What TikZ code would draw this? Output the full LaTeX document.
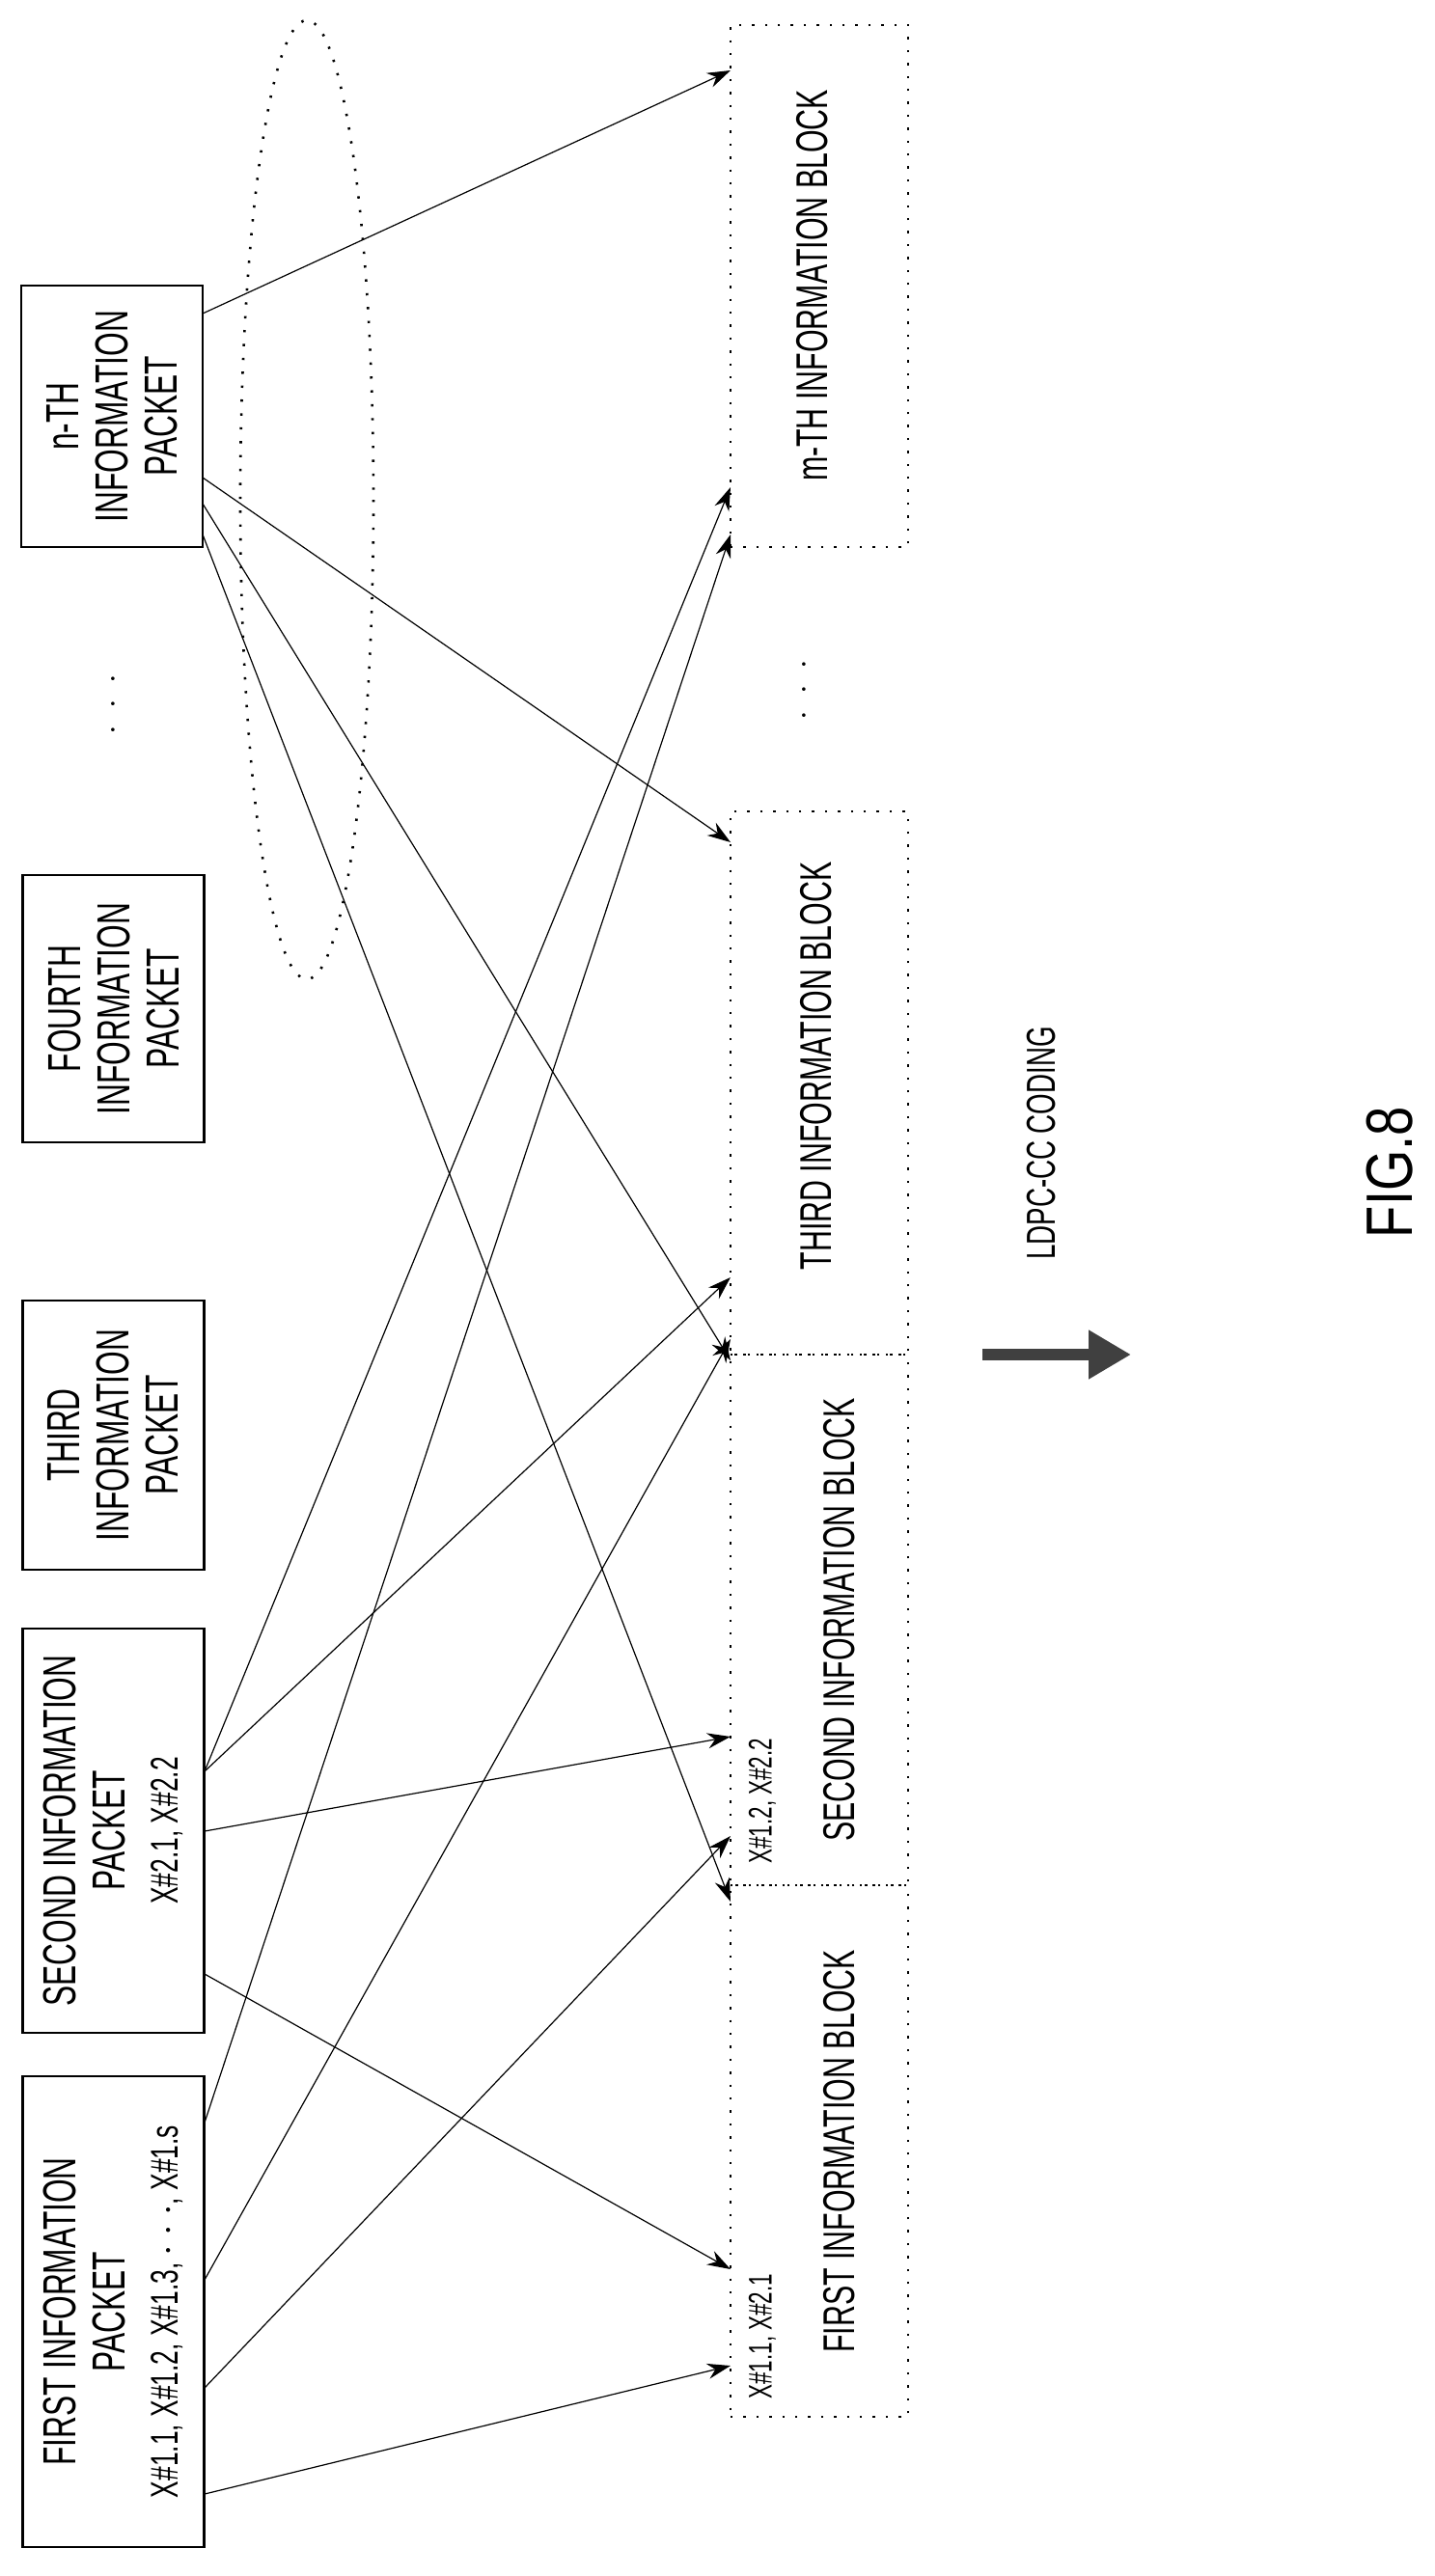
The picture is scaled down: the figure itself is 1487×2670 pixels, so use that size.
\documentclass[tikz,border=0pt]{standalone}
\usepackage{fontspec}
\setmainfont{Liberation Sans}[FakeStretch=0.66]
\usetikzlibrary{arrows.meta}
\begin{document}
\begin{tikzpicture}[x=0.5pt,y=-0.5pt,
  pkt/.style={draw,line width=1.4pt,rotate=90,minimum height=94pt,inner sep=0pt,align=center,
    font=\fontsize{24}{25.5}\selectfont},
  blk/.style={draw,line width=1.4pt,dash pattern=on 1.2pt off 5.5pt,minimum width=92pt,inner sep=0pt},
  btxt/.style={rotate=90,font=\fontsize{23}{25}\selectfont,inner sep=0pt},
  xtxt/.style={rotate=90,font=\fontsize{17}{19}\selectfont,inner sep=0pt,anchor=west},
  con/.style={line width=0.6pt,-{Stealth[length=12pt,width=8pt]}}]
\useasboundingbox (0,0) rectangle (1487,2670);
% packets
\node[pkt,minimum width=244pt] (p1) at (117.5,2396) {FIRST INFORMATION\\PACKET\\[2pt]{\fontsize{20}{22}\selectfont X\#1.1, X\#1.2, X\#1.3, $\cdot\cdot\cdot$, X\#1.s}};
\node[pkt,minimum width=209.5pt] (p2) at (117.5,1897.5) {SECOND INFORMATION\\PACKET\\[2pt]{\fontsize{20}{22}\selectfont X\#2.1, X\#2.2}};
\node[pkt,minimum width=139.5pt] (p3) at (117.5,1487.5) {THIRD\\INFORMATION\\PACKET};
\node[pkt,minimum width=138.5pt] (p4) at (117.5,1045.5) {FOURTH\\INFORMATION\\PACKET};
\node[pkt,minimum width=135.5pt] (pn) at (116,431.5) {n-TH\\INFORMATION\\PACKET};
\node[rotate=90,font=\fontsize{18}{18}\selectfont] (dl) at (118,730) {$\cdot\;\cdot\;\cdot$};
% blocks
\node[blk,minimum height=275.5pt] (b1) at (849,2229.5) {};
\node[blk,minimum height=275pt] (b2) at (849,1679) {};
\node[blk,minimum height=281.5pt] (b3) at (849,1122.5) {};
\node[blk,minimum height=270.5pt] (bm) at (849,296.5) {};
\node[btxt] (t1) at (870,2230) {FIRST INFORMATION BLOCK};
\node[btxt] (t2) at (870,1679) {SECOND INFORMATION BLOCK};
\node[btxt] (t3) at (846,1105) {THIRD INFORMATION BLOCK};
\node[btxt] (tm) at (842,296) {m-TH INFORMATION BLOCK};
\node[xtxt] (x1) at (790,2487) {X\#1.1, X\#2.1};
\node[xtxt] (x2) at (790,1932) {X\#1.2, X\#2.2};
\node[rotate=90,font=\fontsize{18}{18}\selectfont] (dr) at (834,715) {$\cdot\;\cdot\;\cdot$};
% ellipse
\draw[line width=1.3pt,dash pattern=on 1.2pt off 6pt] (318,518) ellipse [x radius=69, y radius=497];
% exit points
\coordinate (a1) at (212,2585); \coordinate (a2) at (212,2475);
\coordinate (a3) at (212,2363); \coordinate (a4) at (212,2200);
\coordinate (c1) at (212,2046); \coordinate (c2) at (212,1898);
\coordinate (c3) at (212,1836);
\coordinate (n1) at (210,325); \coordinate (n2) at (210,495);
\coordinate (n3) at (210,522); \coordinate (n4) at (210,554);
% targets
\coordinate (e1) at (757,2452); \coordinate (e2) at (757,2352);
\coordinate (e3) at (757,1971); \coordinate (e4) at (757,1903);
\coordinate (e5) at (757,1800); \coordinate (e6) at (757,1410);
\coordinate (e7) at (757,1388); \coordinate (e8) at (757,1324);
\coordinate (e9) at (757,873); \coordinate (e10) at (757,554);
\coordinate (e11) at (757,505); \coordinate (e12) at (757,73);
\draw[con] (a1) -- (e1);
\draw[con] (a2) -- (e4);
\draw[con] (a3) -- (e7);
\draw[con] (a4) -- (e10);
\draw[con] (c1) -- (e2);
\draw[con] (c2) -- (e5);
\draw[con] (c3) -- (e8);
\draw[con] (c3) -- (e11);
\draw[con] (n1) -- (e12);
\draw[con] (n2) -- (e9);
\draw[con] (n3) -- (e6);
\draw[con] (n4) -- (e3);
% LDPC arrow
\coordinate (l0) at (1018,1404); \coordinate (l1) at (1172,1404);
\draw[line width=6pt,draw=black!75,-{Triangle[length=22pt,width=24pt]}] (l0) -- (l1);
\node[btxt,font=\fontsize{21}{23}\selectfont] (ldpc) at (1079,1185) {LDPC-CC CODING};
\node[rotate=90,font=\fontsize{34}{36}\selectfont\addfontfeature{FakeStretch=0.8},inner sep=0pt] (fig) at (1440,1215) {FIG.8};
\end{tikzpicture}
\end{document}
